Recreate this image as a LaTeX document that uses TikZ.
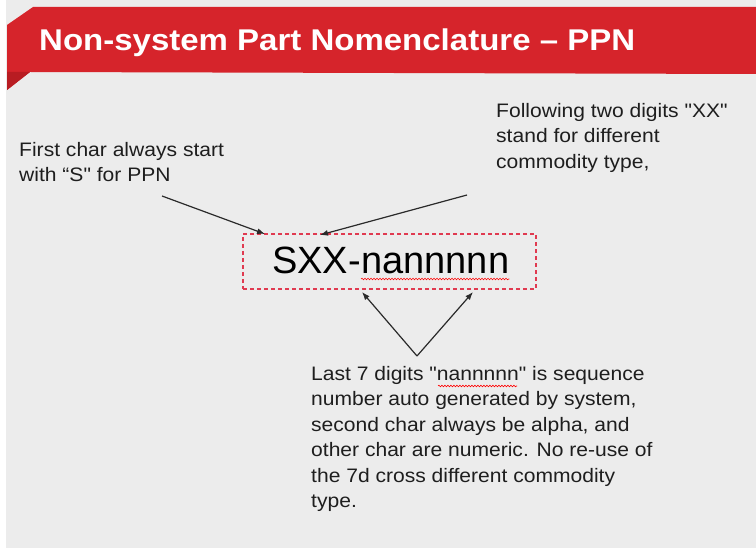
\documentclass[tikz,border=0pt]{standalone}
\usepackage{fontspec}
\setmainfont{Liberation Sans}
\newfontfamily\titlefont{Liberation Sans}[FakeStretch=1.1]
\newfontfamily\bodyfont{Liberation Sans}[FakeStretch=1.08]
\usetikzlibrary{arrows.meta,decorations.pathmorphing}
\definecolor{bg}{HTML}{ECECEC}
\definecolor{bandred}{HTML}{D6242B}
\definecolor{banddark}{HTML}{B81C22}
\definecolor{boxred}{HTML}{E03A50}
\definecolor{arrowgray}{HTML}{2A2A2A}
\definecolor{txt}{HTML}{1E1E1E}
\tikzset{
  arr/.style={draw=arrowgray, line width=1.2pt, -{Latex[length=8pt,width=6pt]}},
  label/.style={anchor=north west, inner sep=0pt, align=left, text=txt,
    font=\bodyfont\fontsize{19.5}{25.5}\selectfont},
  wave/.style={draw=red, line width=0.6pt, decorate,
    decoration={snake, amplitude=0.8pt, segment length=3pt}},
}
\begin{document}
\begin{tikzpicture}[x=1pt,y=-1pt]
\useasboundingbox (0,0) rectangle (756,548);
\fill[white] (0,0) rectangle (756,548);
\fill[bg] (6,0) rectangle (756,548);
% header band
\fill[bandred] (7,25) -- (33,7) -- (756,7) -- (756,74) -- (30,72) -- (7,90) -- cycle;
\fill[banddark] (7,72) -- (30,72) -- (7,90) -- cycle;
\node[anchor=base west, inner sep=0pt, text=white,
  font=\titlefont\bfseries\fontsize{30}{36}\selectfont] (title) at (39,51)
  {Non-system Part Nomenclature – PPN};
% code box
\node[draw=boxred, dashed, dash pattern=on 4pt off 3pt, line width=1.1pt,
  minimum width=293pt, minimum height=55pt, inner sep=0pt] (box) at (389.5,261.5) {};
\node[anchor=base west, inner sep=0pt, font=\fontsize{38}{44}\selectfont] (pre) at (272,274) {SXX-};
\node[anchor=base west, inner sep=0pt, font=\fontsize{38}{44}\selectfont] (nan) at (pre.base east) {nannnnn};
\draw[wave] ([yshift=-5pt]nan.base west) -- ([yshift=-5pt]nan.base east);
% labels
\node[label] (first) at (19,142) {First char always start\\with “S" for PPN};
\node[label] (follow) at (496,103) {Following two digits "XX"\\stand for different\\commodity type,};
\node[label] (last) at (311,366) {Last 7 digits "nannnnn" is sequence\\number auto generated by system,\\second char always be alpha, and\\other char are numeric. No re-use of\\the 7d cross different commodity\\type.};
\coordinate (w1) at (438,386);
\coordinate (w2) at (517,386);
\draw[wave] (w1) -- (w2);
% arrows
\coordinate (s1) at (162,196);
\coordinate (t1) at (265,234);
\coordinate (s2) at (467,195);
\coordinate (t2) at (320,235);
\coordinate (apex) at (417,356);
\coordinate (t3) at (362,292);
\coordinate (t4) at (473,292);
\draw[arr] (s1) -- (t1);
\draw[arr] (s2) -- (t2);
\draw[arr] (apex) -- (t3);
\draw[arr] (apex) -- (t4);
\end{tikzpicture}
\end{document}
